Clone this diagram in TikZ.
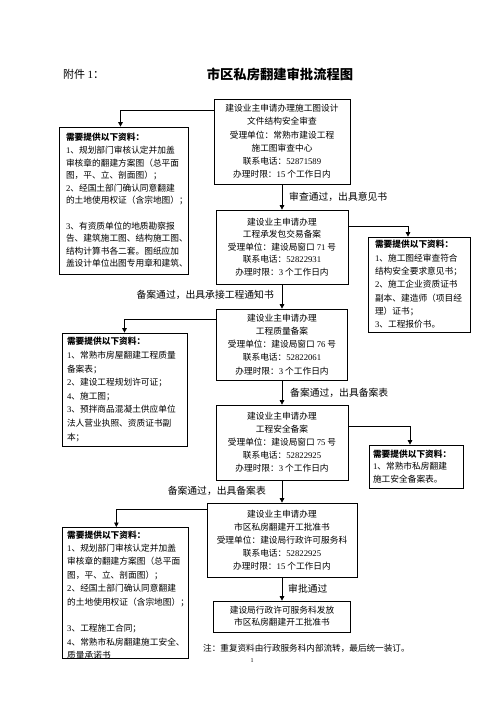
\documentclass[tikz,border=0pt]{standalone}
\usepackage{fontspec}
\setmainfont{Noto Sans CJK SC}
\newfontfamily\lat{Liberation Serif}
\newcommand\nm[1]{{\lat #1}}
\usetikzlibrary{arrows.meta}
\begin{document}
\begin{tikzpicture}[x=1pt,y=-1pt,
  box/.style={draw, line width=0.7pt, inner sep=0pt, align=center},
  side/.style={draw, line width=0.7pt, inner ysep=0pt, align=left},
  arr/.style={line width=0.7pt, -{Triangle[length=4.5pt,width=4.5pt]}},
  lbl/.style={inner sep=0pt, font=\fontsize{9.8}{12}\selectfont}]
\useasboundingbox (0,0) rectangle (500,707);

\node[anchor=west, inner sep=0pt, font=\fontsize{11}{13}\selectfont] (hdr) at (63,74) {附件 \nm{1}：};
\node[inner sep=0pt, font=\fontsize{13.3}{16}\selectfont\bfseries] (title) at (280,74) {市区私房翻建审批流程图};

\node[box, minimum width=136pt, minimum height=85pt, font=\fontsize{8.7}{13.2}\selectfont] (A) at (282,141.5)
 {建设业主申请办理施工图设计\\文件结构安全审查\\受理单位：常熟市建设工程\\施工图审查中心\\联系电话：\nm{52871589}\\办理时限：\nm{15} 个工作日内};

\node[side, text width=115pt, inner xsep=7pt, minimum height=147pt, font=\fontsize{8.7}{12.6}\selectfont] (L1) at (123.5,200.5)
 {\textbf{需要提供以下资料：}\\\nm{1}、规划部门审核认定并加盖\\审核章的翻建方案图（总平面\\图，平、立、剖面图）；\\\nm{2}、经国土部门确认同意翻建\\的土地使用权证（含宗地图）；\\\mbox{}\\\nm{3}、有资质单位的地质勘察报\\告、建筑施工图、结构施工图、\\结构计算书各二套。图纸应加\\盖设计单位出图专用章和建筑、};

\node[box, minimum width=132pt, minimum height=74pt, font=\fontsize{8.7}{12.6}\selectfont] (B) at (282,247)
 {建设业主申请办理\\工程承发包交易备案\\受理单位：建设局窗口 \nm{71} 号\\联系电话：\nm{52822931}\\办理时限：\nm{3} 个工作日内};

\node[side, text width=88pt, inner xsep=7pt, minimum height=95pt, font=\fontsize{8.7}{13.3}\selectfont] (R1) at (419,284.5)
 {\textbf{需要提供以下资料：}\\\nm{1}、施工图经审查符合\\结构安全要求意见书；\\\nm{2}、施工企业资质证书\\副本、建造师（项目经\\理）证书；\\\nm{3}、工程报价书。};

\node[box, minimum width=131pt, minimum height=71pt, font=\fontsize{8.7}{13.2}\selectfont] (C) at (282,344.5)
 {建设业主申请办理\\工程质量备案\\受理单位：建设局窗口 \nm{76} 号\\联系电话：\nm{52822061}\\办理时限：\nm{3} 个工作日内};

\node[side, text width=115pt, inner xsep=5pt, minimum height=113pt, font=\fontsize{8.7}{13.6}\selectfont] (L2) at (124.5,389.5)
 {\textbf{需要提供以下资料：}\\\nm{1}、常熟市房屋翻建工程质量\\备案表；\\\nm{2}、建设工程规划许可证；\\\nm{4}、施工图；\\\nm{3}、预拌商品混凝土供应单位\\法人营业执照、资质证书副\\本；};

\node[box, minimum width=132pt, minimum height=75pt, font=\fontsize{8.7}{13}\selectfont] (D) at (282,442.5)
 {建设业主申请办理\\工程安全备案\\受理单位：建设局窗口 \nm{75} 号\\联系电话：\nm{52822925}\\办理时限：\nm{3} 个工作日内};

\node[side, text width=86pt, inner xsep=4pt, minimum height=43pt, font=\fontsize{8.7}{12.5}\selectfont] (R2) at (416,466.5)
 {\textbf{需要提供以下资料：}\\\nm{1}、常熟市私房翻建\\施工安全备案表。};

\node[box, minimum width=150pt, minimum height=74pt, font=\fontsize{8.7}{13}\selectfont] (E) at (282,540)
 {建设业主申请办理\\市区私房翻建开工批准书\\受理单位：建设局行政许可服务科\\联系电话：\nm{52822925}\\办理时限：\nm{15} 个工作日内};

\node[draw, line width=0.7pt, minimum width=126pt, minimum height=131pt, inner sep=0pt, anchor=north west] (L3) at (62,527) {};
\begin{scope}
\clip (L3.north west) rectangle (L3.south east);
\node[anchor=north west, inner sep=0pt, text width=118pt, align=left, font=\fontsize{8.7}{13.4}\selectfont] (L3t) at (67,530.5)
 {\textbf{需要提供以下资料：}\\\nm{1}、规划部门审核认定并加盖\\审核章的翻建方案图（总平面\\图，平、立、剖面图）；\\\nm{2}、经国土部门确认同意翻建\\的土地使用权证（含宗地图）；\\\mbox{}\\\nm{3}、工程施工合同；\\\nm{4}、常熟市私房翻建施工安全、\\质量承诺书};
\end{scope}

\node[box, minimum width=137pt, minimum height=31pt, font=\fontsize{8.7}{12}\selectfont] (F) at (282,616.5)
 {建设局行政许可服务科发放\\市区私房翻建开工批准书};

\draw[arr] (A) -- (B);
\draw[arr] ([yshift=-12pt]A.north west) -| ([xshift=-3pt]L1.north);
\draw[arr] ([yshift=-17pt]B.north east) -| ([xshift=-11pt]R1.north);
\draw[arr] (B) -- (C);
\draw[arr] ([yshift=-11pt]C.north west) -| (L2.north);
\draw[arr] (C) -- (D);
\draw[arr] ([yshift=-22pt]D.north east) -| ([xshift=-6pt]R2.north);
\draw[arr] (D) -- (E);
\draw[arr] ([yshift=-7pt]E.north west) -| ([xshift=-9pt]L3.north);
\draw[arr] (E) -- (F);

\node[lbl, anchor=west] (t1) at (289,197) {审查通过，出具意见书};
\node[lbl, anchor=east] (t2) at (274,295) {备案通过，出具承接工程通知书};
\node[lbl, anchor=west] (t3) at (290,393) {备案通过，出具备案表};
\node[lbl, anchor=east] (t4) at (266,491) {备案通过，出具备案表};
\node[lbl, anchor=west] (t5) at (288,589) {审批通过};
\node[inner sep=0pt, anchor=west, font=\fontsize{8.6}{10}\selectfont] (note) at (203,648) {注：重复资料由行政服务科内部流转，最后统一装订。};
\node[inner sep=0pt, font=\fontsize{6}{7}\selectfont\lat] (pg) at (252,661) {1};
\end{tikzpicture}
\end{document}
